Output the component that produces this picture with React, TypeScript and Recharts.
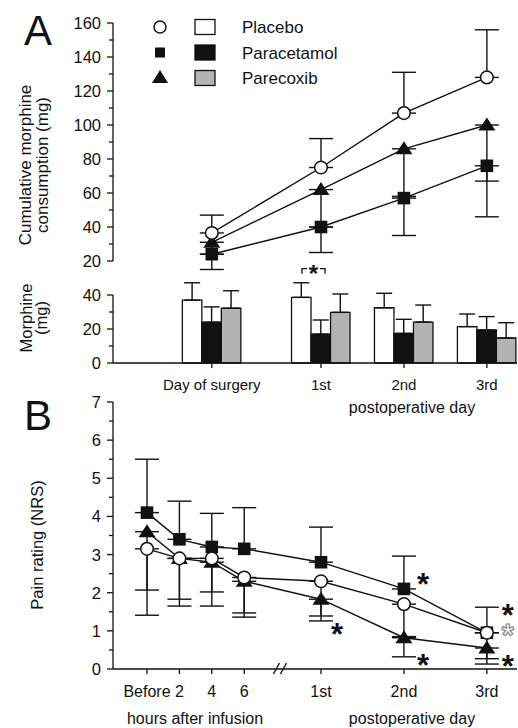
import { ComposedChart, Line, Bar, XAxis, YAxis, ErrorBar, ReferenceDot } from 'recharts';

// shared horizontal axis: hour slots before the break, postoperative days after it
const X_DOMAIN = [-1.05, 11.42];

// Panel A
const cumCategories = ['Day of surgery', '1st', '2nd', '3rd'];
const cumSlots = [2, 5.37, 7.93, 10.49];

const placeboCum = [36.5, 75, 107, 128];
const placeboCumErr = [10.5, 17, 24, 28];
const paracetamolCum = [24, 40, 57, 76];
const paracetamolCumErr = [9, 15, 22, 30];
const parecoxibCum = [31, 62, 86, 100];
const parecoxibCumErr = [7, 22, 28, 33];
const cumTicks = [20, 30, 40, 50, 60, 70, 80, 90, 100, 110, 120, 130, 140, 150, 160];

const placeboDaily = [37, 38.6, 32.5, 21.4];
const placeboDailyErr = [10.2, 8.6, 8.5, 7.4];
const paracetamolDaily = [24, 17, 17.4, 19.4];
const paracetamolDailyErr = [9, 8.3, 8.3, 7.9];
const parecoxibDaily = [32.2, 29.8, 24.1, 14.7];
const parecoxibDailyErr = [10.3, 10.8, 10, 9];
const dailyTicks = [0, 10, 20, 30, 40];

// Panel B
const painLabels = ['Before', '2', '4', '6', '1st', '2nd', '3rd'];
const painSlots = [0, 1, 2, 3, 5.37, 7.93, 10.49];
const placeboPain = [3.15, 2.9, 2.9, 2.4, 2.3, 1.7, 0.95];
const placeboPainErr = [1.08, 1.07, 0.88, 0.93, 0.91, 0.85, 0.68];
const paracetamolPain = [4.1, 3.4, 3.2, 3.15, 2.8, 2.1, 0.95];
const paracetamolPainErr = [1.4, 1.0, 0.88, 1.08, 0.92, 0.86, 0.67];
const parecoxibPain = [3.6, 2.9, 2.8, 2.3, 1.83, 0.82, 0.55];
const parecoxibPainErr = [2.19, 1.25, 1.15, 0.94, 0.57, 0.5, 0.42];
const painTicks = [0, 0.5, 1, 1.5, 2, 2.5, 3, 3.5, 4, 4.5, 5, 5.5, 6, 6.5, 7];
const painBreakAt = 4.15;

// significance marks (slot, value, offset to the right, gray?)
const painStars = [
  { x: 5.37, y: 1.1, dx: 16, gray: false },
  { x: 7.93, y: 2.4, dx: 19, gray: false },
  { x: 7.93, y: 0.3, dx: 19, gray: false },
  { x: 10.49, y: 1.6, dx: 21, gray: false },
  { x: 10.49, y: 1.08, dx: 21, gray: true },
  { x: 10.49, y: 0.27, dx: 21, gray: false },
];

const FONT = '"Liberation Sans", Arial, Helvetica, sans-serif';
const INK = '#111';

const cumRows = cumSlots.map((x, i) => ({
  x,
  placebo: placeboCum[i],
  placeboErr: [0, placeboCumErr[i]],
  paracetamol: paracetamolCum[i],
  paracetamolErr: [paracetamolCumErr[i], 0],
  parecoxib: parecoxibCum[i],
  parecoxibErr: [parecoxibCumErr[i], 0],
}));

const dailyRows = cumSlots.map((x, i) => ({
  x,
  placebo: placeboDaily[i],
  placeboErr: [0, placeboDailyErr[i]],
  paracetamol: paracetamolDaily[i],
  paracetamolErr: [0, paracetamolDailyErr[i]],
  parecoxib: parecoxibDaily[i],
  parecoxibErr: [0, parecoxibDailyErr[i]],
}));

const painRows = painSlots.map((x, i) => ({
  x,
  placebo: placeboPain[i],
  placeboErr: [placeboPainErr[i], 0],
  paracetamol: paracetamolPain[i],
  paracetamolErr: [0, paracetamolPainErr[i]],
  parecoxib: parecoxibPain[i],
  parecoxibErr: [parecoxibPainErr[i], 0],
}));

const circleDot = (p: any) =>
  p.cx == null ? <g key={p.index} /> : (
    <circle key={p.index} cx={p.cx} cy={p.cy} r={6.3} fill="#fff" stroke={INK} strokeWidth={1.5} />
  );
const squareDot = (p: any) =>
  p.cx == null ? <g key={p.index} /> : (
    <rect key={p.index} x={p.cx - 6.3} y={p.cy - 6.3} width={12.6} height={12.6} fill={INK} />
  );
const triangleDot = (p: any) =>
  p.cx == null ? <g key={p.index} /> : (
    <polygon key={p.index} points={`${p.cx},${p.cy - 7.5} ${p.cx + 8.5},${p.cy + 5.5} ${p.cx - 8.5},${p.cy + 5.5}`} fill={INK} />
  );

// y ticks: long tick + label on every `every`, short tick otherwise
const makeYTick = (every: number) => (props: any) => {
  const { x, y, payload } = props;
  const v = payload.value;
  const major = Math.abs(v / every - Math.round(v / every)) < 1e-6;
  const ax = x + 12;
  return (
    <g>
      <line x1={ax - (major ? 6 : 4)} x2={ax} y1={y} y2={y} stroke={INK} strokeWidth={1.3} />
      {major && (
        <text x={x} y={y} dy="0.36em" textAnchor="end" fontSize={16.5} fill={INK} fontFamily={FONT}>
          {v}
        </text>
      )}
    </g>
  );
};

const axisLine = { stroke: INK, strokeWidth: 1.3 };
const lineProps = { type: 'linear' as const, stroke: INK, strokeWidth: 1.4, isAnimationActive: false, activeDot: false };
const errProps = { width: 12, stroke: INK, strokeWidth: 1.4 };
const MARGIN_LEFT = 53;

function CumulativeChart() {
  return (
    <ComposedChart width={518} height={280} data={cumRows} margin={{ top: 23, right: 1, bottom: 19, left: MARGIN_LEFT }}>
      <XAxis type="number" dataKey="x" domain={X_DOMAIN} hide />
      <YAxis type="number" domain={[20, 160]} ticks={cumTicks} interval={0} width={60} allowDataOverflow
        tick={makeYTick(20)} tickLine={false} tickSize={6} tickMargin={6} axisLine={axisLine} />
      <Line dataKey="paracetamol" {...lineProps} dot={squareDot}>
        <ErrorBar dataKey="paracetamolErr" direction="y" {...errProps} />
      </Line>
      <Line dataKey="parecoxib" {...lineProps} dot={triangleDot}>
        <ErrorBar dataKey="parecoxibErr" direction="y" {...errProps} />
      </Line>
      <Line dataKey="placebo" {...lineProps} dot={circleDot}>
        <ErrorBar dataKey="placeboErr" direction="y" {...errProps} />
      </Line>
    </ComposedChart>
  );
}

function DailyChart() {
  const bracket = (p: any) => (
    <g>
      <path d={`M${p.cx - 19},${p.cy + 5} V${p.cy} H${p.cx - 14} M${p.cx - 1},${p.cy} H${p.cx + 4} V${p.cy + 5}`}
        fill="none" stroke={INK} strokeWidth={1.3} />
      <text x={p.cx - 7.5} y={p.cy + 13} textAnchor="middle" fontSize={24} fontWeight="bold" fill={INK} fontFamily={FONT}>*</text>
    </g>
  );
  return (
    <ComposedChart width={518} height={130} data={dailyRows} barSize={19.5} barGap={0}
      margin={{ top: 15, right: 1, bottom: 17, left: MARGIN_LEFT }}>
      <XAxis type="number" dataKey="x" domain={X_DOMAIN} ticks={cumSlots} interval={0} height={30}
        tickFormatter={(v: number) => cumCategories[cumSlots.indexOf(v)] ?? ''}
        tick={{ fontSize: 15, fill: INK, fontFamily: FONT }} tickSize={5} tickMargin={11}
        tickLine={axisLine} axisLine={axisLine} />
      <YAxis type="number" domain={[0, 40]} ticks={dailyTicks} interval={0} width={60} allowDataOverflow
        tick={makeYTick(20)} tickLine={false} tickSize={6} tickMargin={6} axisLine={axisLine} />
      <Bar dataKey="placebo" fill="#fff" stroke={INK} strokeWidth={1.3} isAnimationActive={false}>
        <ErrorBar dataKey="placeboErr" direction="y" width={8} stroke={INK} strokeWidth={1.4} />
      </Bar>
      <Bar dataKey="paracetamol" fill={INK} stroke={INK} strokeWidth={1.3} isAnimationActive={false}>
        <ErrorBar dataKey="paracetamolErr" direction="y" width={8} stroke={INK} strokeWidth={1.4} />
      </Bar>
      <Bar dataKey="parecoxib" fill="#b3b3b3" stroke={INK} strokeWidth={1.3} isAnimationActive={false}>
        <ErrorBar dataKey="parecoxibErr" direction="y" width={8} stroke={INK} strokeWidth={1.4} />
      </Bar>
      <ReferenceDot x={cumSlots[1]} y={55.5} r={0} ifOverflow="visible" shape={bracket} />
    </ComposedChart>
  );
}

function PainChart() {
  const star = (gray: boolean, dx: number) => (p: any) => (
    <text x={p.cx + dx} y={p.cy + 18} textAnchor="middle" fontSize={31} fontWeight="bold" fontFamily={FONT}
      fill={gray ? '#fff' : INK} stroke={gray ? '#888' : 'none'} strokeWidth={1.2}>*</text>
  );
  const breakMark = (p: any) => (
    <g stroke={INK} strokeWidth={1.4}>
      <line x1={p.cx - 8} y1={p.cy + 5} x2={p.cx - 2} y2={p.cy - 6} />
      <line x1={p.cx - 1} y1={p.cy + 5} x2={p.cx + 5} y2={p.cy - 6} />
    </g>
  );
  return (
    <ComposedChart width={518} height={348} data={painRows} margin={{ top: 22, right: 1, bottom: 29, left: MARGIN_LEFT }}>
      <XAxis type="number" dataKey="x" domain={X_DOMAIN} ticks={painSlots} interval={0} height={30}
        tickFormatter={(v: number) => painLabels[painSlots.indexOf(v)] ?? ''}
        tick={{ fontSize: 16, fill: INK, fontFamily: FONT }} tickSize={5} tickMargin={12}
        tickLine={axisLine} axisLine={axisLine} />
      <YAxis type="number" domain={[0, 7]} ticks={painTicks} interval={0} width={60} allowDataOverflow
        tick={makeYTick(1)} tickLine={false} tickSize={6} tickMargin={6} axisLine={axisLine} />
      <Line dataKey="paracetamol" {...lineProps} dot={squareDot}>
        <ErrorBar dataKey="paracetamolErr" direction="y" {...errProps} />
      </Line>
      <Line dataKey="parecoxib" {...lineProps} dot={triangleDot}>
        <ErrorBar dataKey="parecoxibErr" direction="y" {...errProps} />
      </Line>
      <Line dataKey="placebo" {...lineProps} dot={circleDot}>
        <ErrorBar dataKey="placeboErr" direction="y" {...errProps} />
      </Line>
      <ReferenceDot x={painBreakAt} y={0} r={0} ifOverflow="visible" shape={breakMark} />
      {painStars.map((s, i) => (
        <ReferenceDot key={i} x={s.x} y={s.y} r={0} ifOverflow="visible" shape={star(s.gray, s.dx)} />
      ))}
    </ComposedChart>
  );
}

function Overlay() {
  const legend = [
    { name: 'Placebo', box: '#fff' },
    { name: 'Paracetamol', box: INK },
    { name: 'Parecoxib', box: '#b3b3b3' },
  ];
  return (
    <svg width={518} height={728} style={{ position: 'absolute', left: 0, top: 0, pointerEvents: 'none' }}
      fontFamily={FONT} fill={INK}>
      <text x={24} y={45} fontSize={42}>A</text>
      <text x={24} y={430} fontSize={42}>B</text>
      <text transform="translate(31,165) rotate(-90)" textAnchor="middle" fontSize={17}>Cumulative morphine</text>
      <text transform="translate(48,165) rotate(-90)" textAnchor="middle" fontSize={17}>consumption (mg)</text>
      <text transform="translate(32,318) rotate(-90)" textAnchor="middle" fontSize={16.5}>Morphine</text>
      <text transform="translate(47,318) rotate(-90)" textAnchor="middle" fontSize={16.5}>(mg)</text>
      <text transform="translate(43,545) rotate(-90)" textAnchor="middle" fontSize={16.5}>Pain rating (NRS)</text>
      <text x={412} y={413} textAnchor="middle" fontSize={16}>postoperative day</text>
      <text x={195} y={724} textAnchor="middle" fontSize={16}>hours after infusion</text>
      <text x={412} y={724} textAnchor="middle" fontSize={16}>postoperative day</text>
      {legend.map((l, i) => {
        const cy = 27 + i * 25.5;
        return (
          <g key={l.name}>
            {i === 0 && <circle cx={160} cy={cy} r={6} fill="#fff" stroke={INK} strokeWidth={1.5} />}
            {i === 1 && <rect x={155} y={cy - 5} width={10} height={10} fill={INK} />}
            {i === 2 && <polygon points={`160,${cy - 8} 168,${cy + 5} 152,${cy + 5}`} fill={INK} />}
            <rect x={195} y={cy - 7.5} width={20} height={15} fill={l.box} stroke={INK} strokeWidth={1.3} />
            <text x={242} y={cy + 6} fontSize={17}>{l.name}</text>
          </g>
        );
      })}
    </svg>
  );
}

export default function App() {
  return (
    <div className="noclip" style={{ position: 'absolute', left: 0, top: 0, width: 518, height: 728, background: '#fff', fontFamily: FONT }}>
      <style>{`.noclip [clip-path]{clip-path:none !important} .noclip svg{overflow:visible}`}</style>
      <div style={{ position: 'absolute', left: 0, top: 0 }}><CumulativeChart /></div>
      <div style={{ position: 'absolute', left: 0, top: 280 }}><DailyChart /></div>
      <div style={{ position: 'absolute', left: 0, top: 380 }}><PainChart /></div>
      <Overlay />
    </div>
  );
}
